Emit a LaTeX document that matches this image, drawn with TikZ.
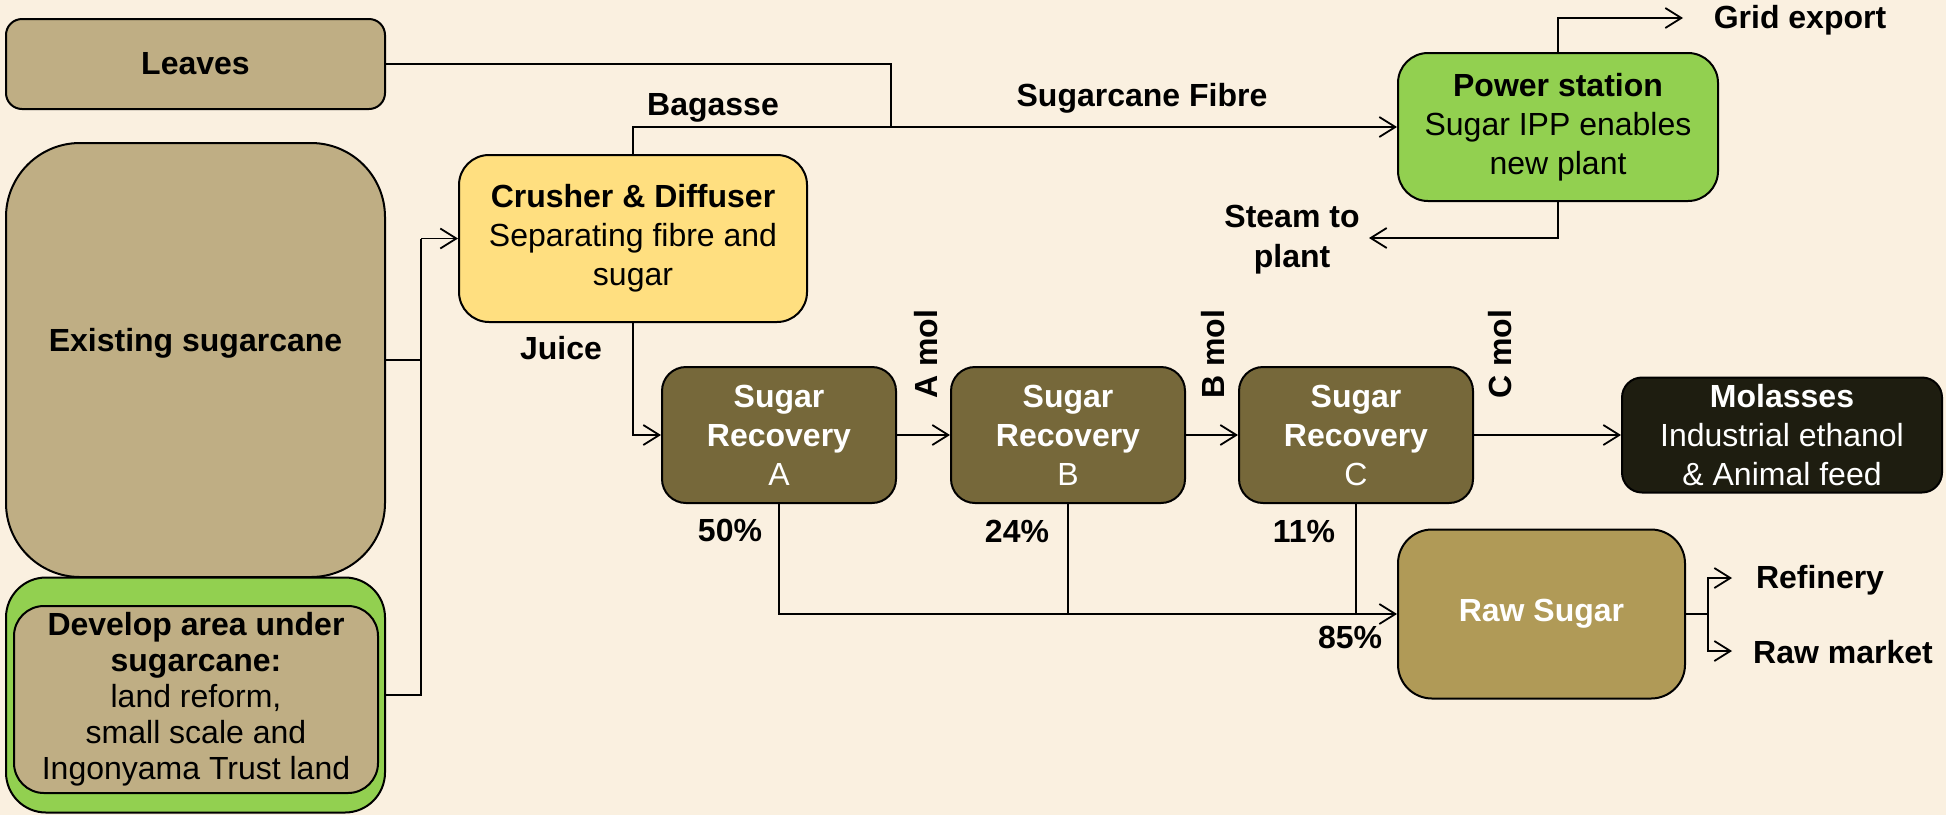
\documentclass[tikz,border=0pt]{standalone}
\usepackage{fontspec}
\setmainfont{Liberation Sans}
\usepackage{tikz}
\usepackage{xcolor}
\usetikzlibrary{arrows.meta,positioning}
\definecolor{paper}{HTML}{FAF0E0}
\definecolor{cane}{HTML}{BFAE84}
\definecolor{leafgreen}{HTML}{92D050}
\definecolor{crush}{HTML}{FFDF80}
\definecolor{mill}{HTML}{76683A}
\definecolor{treacle}{HTML}{1E1D10}
\definecolor{rawsugar}{HTML}{B09A57}
\definecolor{ink}{HTML}{000000}

\begin{document}
\begin{tikzpicture}[x=0.5pt,y=-0.5pt,
  font=\fontsize{16}{19.5}\selectfont,
  box/.style={draw=ink,line width=1pt,align=center,inner sep=0pt},
  recovery/.style={box,fill=mill,text=white,rounded corners=12pt,
                   minimum width=117pt,minimum height=68pt},
  flow/.style={draw=ink,line width=0.9pt,-{Straight Barb[length=8pt,width=10pt]}},
  link/.style={draw=ink,line width=0.9pt},
  tag/.style={font=\fontsize{16}{20}\selectfont\bfseries,align=center}]
 \fill[paper] (0,0) rectangle (1946,815);
 \useasboundingbox (0,0) rectangle (1946,815);

 \node[box,fill=cane,rounded corners=8pt,minimum width=189.5pt,minimum height=45pt,
       font=\fontsize{16}{19}\selectfont\bfseries] (leaves) at (195.5,64) {Leaves};
 \node[box,fill=cane,rounded corners=37pt,minimum width=189.5pt,minimum height=217pt,
       label={[tag,yshift=8.5pt]center:Existing sugarcane}] (exist) at (195.5,360) {};
 \node[box,fill=leafgreen,rounded corners=20pt,minimum width=189.5pt,minimum height=117.5pt]
   (devout) at (195.5,695) {};
 \node[box,fill=cane,rounded corners=15pt,minimum width=182pt,minimum height=93.5pt,
       font=\fontsize{16}{18}\selectfont] (devin) at (196,699.5)
   {\textbf{Develop area under}\\\textbf{sugarcane:}\\land reform,\\small scale and\\Ingonyama Trust land};

 \node[box,fill=crush,rounded corners=15pt,minimum width=174pt,minimum height=83.5pt]
   (crusher) at (633,238.5) {\textbf{Crusher \& Diffuser}\\Separating fibre and\\sugar};
 \node[box,fill=leafgreen,rounded corners=15pt,minimum width=160pt,minimum height=74pt]
   (power) at (1558,127) {\textbf{Power station}\\Sugar IPP enables\\new plant};

 \node[recovery] (sra) at (779,435) {\textbf{Sugar}\\\textbf{Recovery}\\A};
 \node[recovery] (srb) at (1068,435) {\textbf{Sugar}\\\textbf{Recovery}\\B};
 \node[recovery] (src) at (1356,435) {\textbf{Sugar}\\\textbf{Recovery}\\C};
 \node[box,fill=treacle,text=white,rounded corners=10pt,minimum width=160pt,minimum height=57.5pt]
   (mol) at (1782,435) {\textbf{Molasses}\\Industrial ethanol\\\& Animal feed};
 \node[box,fill=rawsugar,text=white,rounded corners=17pt,minimum width=143.5pt,minimum height=84.5pt,
       font=\fontsize{16}{19}\selectfont\bfseries] (raw) at (1541.5,614) {Raw Sugar};

 \coordinate (fibrejoin) at (891,127);
 \coordinate (feed) at (421,238.5);
 \coordinate (gridend) at (1683,18);
 \coordinate (steamend) at (1369,238);
 \coordinate (split) at (1708,614);
 \coordinate (refend) at (1732,578);
 \coordinate (mktend) at (1732,651);

 \draw[link] (leaves.east) -| (fibrejoin);
 \draw[flow] (crusher.north) |- (power.west);
 \draw[link] (exist.east) -| (feed);
 \draw[link] (devout.east) -| (feed);
 \draw[flow] (feed) -- (crusher.west);
 \draw[flow] (crusher.south) |- (sra.west);
 \draw[flow] (sra.east) -- (srb.west);
 \draw[flow] (srb.east) -- (src.west);
 \draw[flow] (src.east) -- (mol.west);
 \draw[flow] (sra.south) |- (raw.west);
 \draw[link] (srb.south) -- (srb.south |- raw.west);
 \draw[link] (src.south) -- (src.south |- raw.west);
 \draw[flow] (power.north) |- (gridend);
 \draw[flow] (power.south) |- (steamend);
 \draw[link] (raw.east) -- (split);
 \draw[flow] (split) |- (refend);
 \draw[flow] (split) |- (mktend);

 \node[tag] (bagasse) at (713,108) {Bagasse};
 \node[tag] (fibre) at (1142,98) {Sugarcane Fibre};
 \node[tag] (grid) at (1800,20) {Grid export};
 \node[tag] (steam) at (1292,240) {Steam to\\plant};
 \node[tag] (juice) at (561,348) {Juice};
 \node[tag,rotate=90] (amol) at (926,354) {A mol};
 \node[tag,rotate=90] (bmol) at (1213,354) {B mol};
 \node[tag,rotate=90] (cmol) at (1500,354) {C mol};
 \node[tag] (p50) at (730,530) {50\%};
 \node[tag] (p24) at (1017,531) {24\%};
 \node[tag] (p11) at (1304,531) {11\%};
 \node[tag] (p85) at (1350,637) {85\%};
 \node[tag] (refinery) at (1820,580) {Refinery};
 \node[tag] (rawmarket) at (1843,652) {Raw market};
\end{tikzpicture}
\end{document}
